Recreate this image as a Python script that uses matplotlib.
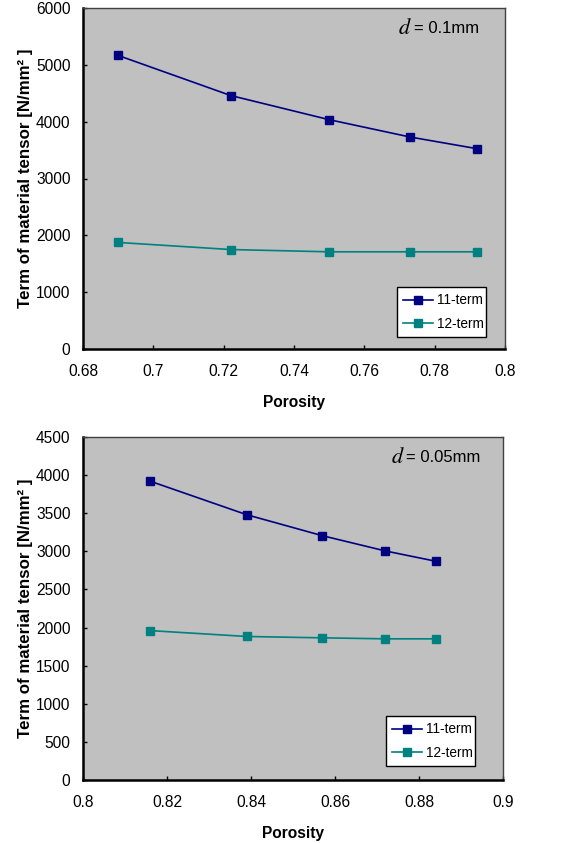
import matplotlib.pyplot as plt

# Porosity / tensor term values, d = 0.1mm
porosity_a = [0.690, 0.722, 0.750, 0.773, 0.792]
term11_a = [5165, 4460, 4035, 3730, 3525]
term12_a = [1875, 1750, 1710, 1710, 1710]

# Porosity / tensor term values, d = 0.05mm
porosity_b = [0.816, 0.839, 0.857, 0.872, 0.884]
term11_b = [3920, 3480, 3205, 3005, 2870]
term12_b = [1960, 1883, 1865, 1852, 1852]

xticks_a = [0.68, 0.7, 0.72, 0.74, 0.76, 0.78, 0.8]
xtick_labels_a = ['0.68', '0.7', '0.72', '0.74', '0.76', '0.78', '0.8']
yticks_a = [0, 1000, 2000, 3000, 4000, 5000, 6000]

xticks_b = [0.8, 0.82, 0.84, 0.86, 0.88, 0.9]
xtick_labels_b = ['0.8', '0.82', '0.84', '0.86', '0.88', '0.9']
yticks_b = [0, 500, 1000, 1500, 2000, 2500, 3000, 3500, 4000, 4500]

plt.rcParams['font.family'] = ['Liberation Sans', 'DejaVu Sans']

W, H = 567, 843
fig = plt.figure(figsize=(W / 100, H / 100), dpi=100)


def draw_panel(rect, x, y11, y12, xticks, xlabels, yticks, d_text, d_pos, leg_rect):
    ax = fig.add_axes(rect)
    ax.set_facecolor('#c0c0c0')
    ax.plot(x, y11, color='#000080', marker='s', markersize=5.5, lw=1.2, label='11-term')
    ax.plot(x, y12, color='#008080', marker='s', markersize=5.5, lw=1.2, label='12-term')
    ax.set_xlim(xticks[0], xticks[-1])
    ax.set_ylim(yticks[0], yticks[-1])
    ax.set_xticks(xticks)
    ax.set_xticklabels(xlabels)
    ax.set_yticks(yticks)
    ax.tick_params(direction='in', length=3, width=1, labelsize=11.2, pad=9)
    ax.tick_params(axis='x', pad=11)
    for s in ['left', 'bottom']:
        ax.spines[s].set_linewidth(1.8)
        ax.spines[s].set_color('black')
    for s in ['top', 'right']:
        ax.spines[s].set_linewidth(1.0)
        ax.spines[s].set_color('#404040')
    ax.set_xlabel('Porosity', fontsize=11.2, fontweight='bold', labelpad=11)
    ax.set_ylabel('Term of material tensor [N/mm² ]', fontsize=12.2, fontweight='bold', labelpad=2)
    ax.text(d_pos[0], d_pos[1], '$d$', transform=ax.transAxes, fontsize=16,
            ha='right', va='center', math_fontfamily='stix')
    ax.text(d_pos[0] + 0.005, d_pos[1], d_text, transform=ax.transAxes, fontsize=12,
            ha='left', va='center')
    leg = ax.legend(loc='lower left', bbox_to_anchor=leg_rect, mode='expand',
                    fontsize=9.8, frameon=True, fancybox=False, framealpha=1,
                    edgecolor='black', handlelength=2.2, borderpad=0.45,
                    labelspacing=0.7, handletextpad=0.3, borderaxespad=0)
    leg.get_frame().set_linewidth(1.0)
    return ax


top = [83 / W, 1 - 349 / H, (505 - 83) / W, (349 - 8) / H]
bot = [83 / W, 1 - 780 / H, (503 - 83) / W, (780 - 437) / H]

draw_panel(top, porosity_a, term11_a, term12_a, xticks_a, xtick_labels_a, yticks_a,
           '= 0.1mm', (0.78, 0.94),
           ((397 - 83) / 422, (349 - 337) / 341, (486 - 397) / 422, (337 - 286) / 341))
draw_panel(bot, porosity_b, term11_b, term12_b, xticks_b, xtick_labels_b, yticks_b,
           '= 0.05mm', (0.765, 0.94),
           ((386 - 83) / 420, (780 - 766) / 343, (475 - 386) / 420, (766 - 716) / 343))

fig.savefig('out.png', dpi=100)
